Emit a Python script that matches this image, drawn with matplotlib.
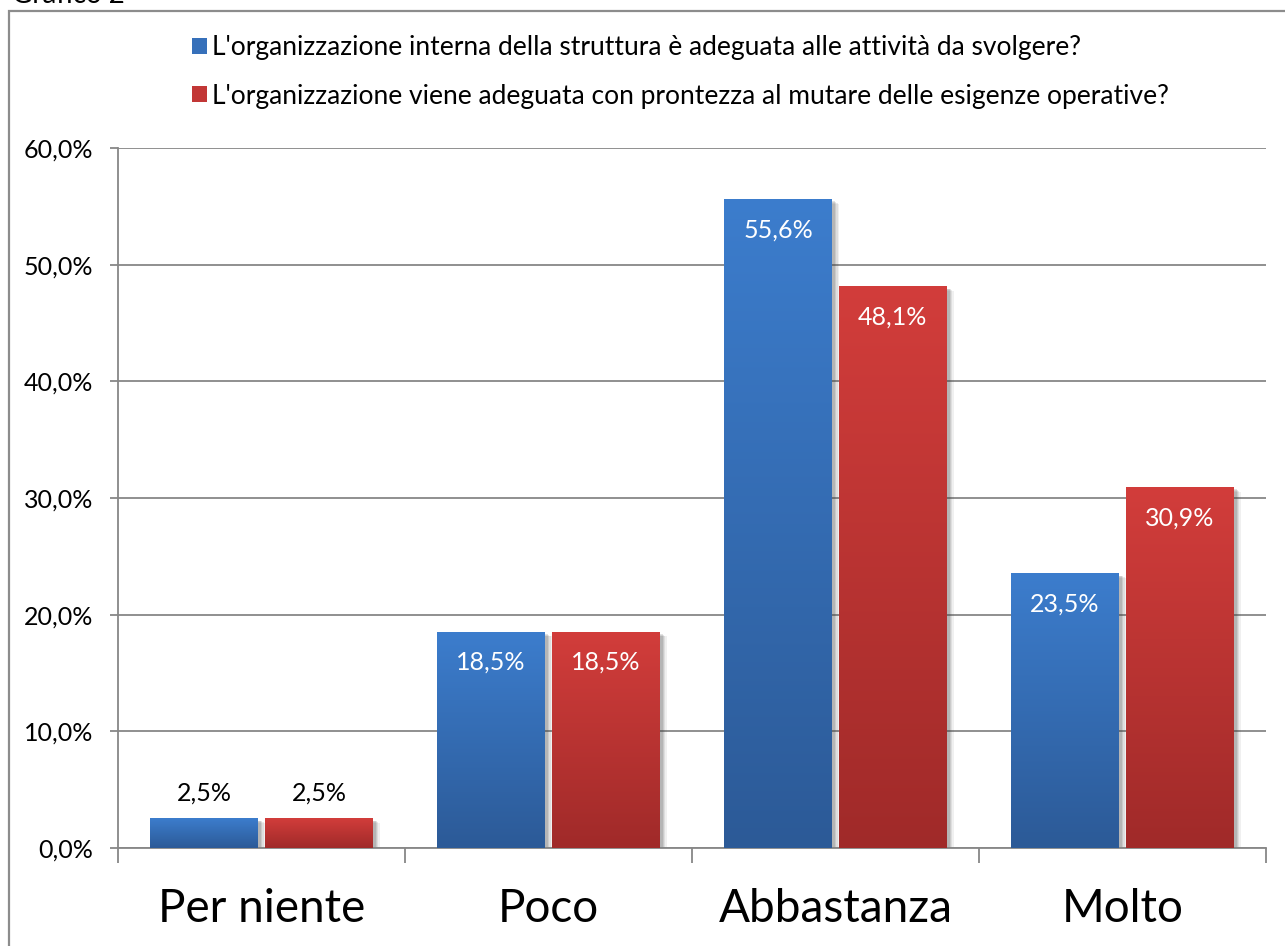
import numpy as np
import matplotlib
matplotlib.use("Agg")
import matplotlib.pyplot as plt
from matplotlib.colors import LinearSegmentedColormap
from matplotlib.patches import Patch, Rectangle
import matplotlib.patheffects as pe

categories = ["Per niente", "Poco", "Abbastanza", "Molto"]
interna = [2.5, 18.5, 55.6, 23.5]
mutare = [2.5, 18.5, 48.1, 30.9]
series_labels = [
    "L'organizzazione interna della struttura è adeguata alle attività da svolgere?",
    "L'organizzazione viene adeguata con prontezza al mutare delle esigenze operative?",
]
yticks = [0, 10, 20, 30, 40, 50, 60]

plt.rcParams["font.family"] = ["Lato", "DejaVu Sans"]

fig = plt.figure(figsize=(12.85, 9.46), dpi=100)
W, H = 1285, 946
ax = fig.add_axes([118 / W, 1 - 848 / H, (1266 - 118) / W, (848 - 148) / H])

# chart frame + cut-off title
fig.patches.append(Rectangle((9 / W, -0.1), 1.2, 1 - 11 / H + 0.1,
                             transform=fig.transFigure, fill=False,
                             edgecolor="#8c8c8c", linewidth=1.6))
fig.text(12 / W, 1 - 3 / H, "Grafico 2", fontsize=20, va="baseline", ha="left")

blue_cm = LinearSegmentedColormap.from_list("b", ["#2c5a97", "#3c7dcd"])
red_cm = LinearSegmentedColormap.from_list("r", ["#a02a29", "#d23d3b"])
grad = np.linspace(0, 1, 256).reshape(-1, 1)

x = np.arange(len(categories))
w = 0.376
off = 0.2
for vals, cm, dx in [(interna, blue_cm, -off), (mutare, red_cm, off)]:
    for xi, v in zip(x, vals):
        x0 = xi + dx - w / 2
        # soft drop shadow behind the gradient bar
        for k, a in [(5, 0.08), (4, 0.1), (3, 0.12), (2, 0.15)]:
            ax.add_patch(Rectangle((x0, 0), w, v, facecolor="#404040", edgecolor="none", alpha=a, zorder=2,
                                   path_effects=[pe.withSimplePatchShadow(offset=(k, -k * 0.6), shadow_rgbFace="#404040", alpha=a)]))
        ax.add_patch(Rectangle((x0, 0), w, v, facecolor="white", edgecolor="none", zorder=2.5))
        ax.imshow(grad, extent=[x0, x0 + w, 0, v], origin="lower", cmap=cm,
                  aspect="auto", zorder=3, interpolation="bicubic")
        label = f"{v:.1f}%".replace(".", ",")
        if v > 10:
            ax.text(xi + dx, v - 2.6, label, ha="center", va="center",
                    color="white", fontsize=18, zorder=5)
        else:
            ax.text(xi + dx, v + 2.2, label, ha="center", va="center",
                    color="black", fontsize=18, zorder=5)

ax.set_xlim(-0.5, len(categories) - 0.5)
ax.set_ylim(0, 60)
ax.set_yticks(yticks)
ax.set_yticklabels([f"{t:.1f}%".replace(".", ",") for t in yticks], fontsize=18)
ax.yaxis.grid(True, color="#878787", linewidth=1.3, zorder=1)
ax.set_axisbelow(True)

ax.set_xticks(np.arange(len(categories) + 1) - 0.5)
ax.set_xticklabels([])
ax.set_xticks(x, minor=True)
ax.set_xticklabels(categories, minor=True, fontsize=33)
ax.tick_params(axis="x", which="major", length=11, width=1.3, color="#878787", direction="out")
ax.tick_params(axis="x", which="minor", length=0, pad=29)
ax.tick_params(axis="y", length=6, width=1.3, color="#878787", pad=12)

for s in ["top", "right"]:
    ax.spines[s].set_visible(False)
for s in ["left", "bottom"]:
    ax.spines[s].set_color("#878787")
    ax.spines[s].set_linewidth(1.3)

handles = [Patch(facecolor="#3670ba", edgecolor="none"), Patch(facecolor="#c23736", edgecolor="none")]
fig.legend(handles, series_labels, loc="upper left", bbox_to_anchor=(192 / W, 1 - 35 / H),
           frameon=False, fontsize=19, handlelength=0.55, handleheight=0.55,
           handletextpad=0.2, labelspacing=0.9, borderaxespad=0, borderpad=0)

fig.savefig("out.png", dpi=100)
